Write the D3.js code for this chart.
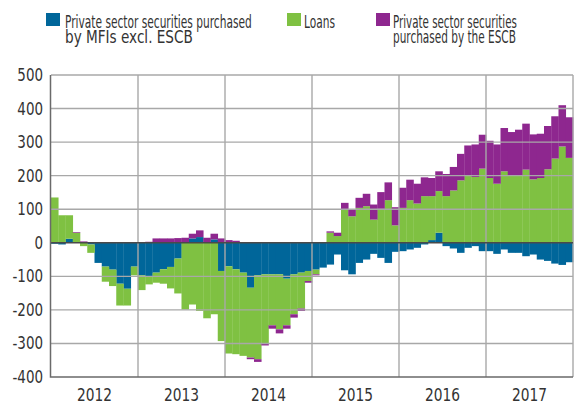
<!DOCTYPE html>
<html>
<head>
<meta charset="utf-8">
<script src="https://cdn.jsdelivr.net/npm/d3@7"></script>
<style>
  body { margin: 0; background: #fff; }
  svg text { font-family: "Liberation Sans Narrow", "DejaVu Sans Condensed", "Roboto", sans-serif; fill: #333; }
</style>
</head>
<body>
<div id="chart"></div>
<script>
// year labels on the x axis, one bar per month
var years = ["2012", "2013", "2014", "2015", "2016", "2017"];
var yTicks = [-400, -300, -200, -100, 0, 100, 200, 300, 400, 500];

// private sector securities purchased by MFIs excl. ESCB
var mfi = [
  -3, -5, 12, 0, 2, -5, -60, -71, -80, -122, -137, -71,
  -97, -99, -89, -79, -72, -47, 0, 13, 17, 0, 10, -84,
  -70, -79, -89, -134, -97, -94, -94, -94, -107, -94, -89, -84,
  -80, -74, -65, -35, -82, -94, -60, -50, -33, -45, -60, -27,
  -25, -20, -15, -5, 8, 30, -10, -17, -30, -15, -10, -25,
  -25, -33, -20, -30, -30, -40, -35, -50, -54, -62, -66, -58
];
// loans
var loans = [
  135, 82, 70, 30, -10, -25, 0, -45, -49, -65, -50, -26,
  -44, -25, -30, -43, -64, -104, -199, -184, -203, -225, -213, -209,
  -260, -253, -248, -208, -250, -206, -152, -164, -139, -119, -107, -30,
  -14, 0, 30, 20, 99, 79, 104, 109, 69, 101, 127, 52,
  104, 127, 117, 139, 131, 124, 139, 156, 186, 200, 196, 221,
  193, 176, 213, 200, 202, 218, 189, 193, 219, 251, 287, 253
];
// private sector securities purchased by the ESCB
var escb = [
  0, 0, 0, 2, 2, 0, 0, 0, 0, 0, 0, 0,
  2, 3, 13, 13, 13, 14, 15, 14, 20, 15, 17, 13,
  8, 6, 0, -5, -8, -6, -10, -12, -10, -10, -7, -5,
  -3, 0, 4, 10, 20, 20, 30, 37, 45, 50, 53, 54,
  60, 61, 59, 56, 54, 59, 66, 70, 79, 90, 97, 101,
  111, 117, 129, 130, 135, 137, 134, 132, 129, 126, 123, 121
];

var seriesNames = [
  ["Private sector securities purchased", "by MFIs excl. ESCB"],
  ["Loans"],
  ["Private sector securities", "purchased by the ESCB"]
];
var colors = ["#00669a", "#7fc142", "#8e278f"];

var months = [];
years.forEach(function(y) {
  for (var m = 1; m <= 12; m++) months.push(y + "-" + (m < 10 ? "0" + m : m));
});

var rows = months.map(function(m, i) {
  return { month: m, mfi: mfi[i], loans: loans[i], escb: escb[i] };
});

var w = 575, h = 405;
var margin = { top: 75, right: 2, bottom: 28, left: 51 };

var svg = d3.select("#chart")
  .append("svg")
  .attr("width", w)
  .attr("height", h);

var xScale = d3.scaleBand()
  .domain(months)
  .range([margin.left, w - margin.right])
  .padding(0);

var yScale = d3.scaleLinear()
  .domain([-400, 500])
  .range([h - margin.bottom, margin.top]);

var stack = d3.stack()
  .keys(["mfi", "loans", "escb"])
  .offset(d3.stackOffsetDiverging);

var layers = stack(rows);

// bars
svg.append("g")
  .selectAll("g")
  .data(layers)
  .enter()
  .append("g")
  .attr("fill", function(d, i) { return colors[i]; })
  .selectAll("rect")
  .data(function(d) { return d; })
  .enter()
  .append("rect")
  .attr("x", function(d) { return xScale(d.data.month); })
  .attr("width", xScale.bandwidth() + 0.3)
  .attr("y", function(d) { return yScale(Math.max(d[0], d[1])); })
  .attr("height", function(d) { return Math.abs(yScale(d[0]) - yScale(d[1])); });

// horizontal grid
svg.append("g")
  .selectAll("line")
  .data(yTicks.filter(function(t) { return t !== 0 && t !== -400; }))
  .enter()
  .append("line")
  .attr("x1", margin.left)
  .attr("x2", w - margin.right)
  .attr("y1", function(d) { return yScale(d); })
  .attr("y2", function(d) { return yScale(d); })
  .style("stroke", "#a8a8a8")
  .style("stroke-width", 1.4);

// year grid lines
var yearEdges = years.map(function(y) { return xScale(y + "-01"); }).slice(1);
yearEdges.push(w - margin.right);
svg.append("g")
  .selectAll("line")
  .data(yearEdges)
  .enter()
  .append("line")
  .attr("x1", function(d) { return d; })
  .attr("x2", function(d) { return d; })
  .attr("y1", margin.top)
  .attr("y2", h - margin.bottom)
  .style("stroke", "#a8a8a8")
  .style("stroke-width", 1.4);

// zero line
svg.append("line")
  .attr("x1", margin.left)
  .attr("x2", w - margin.right)
  .attr("y1", yScale(0))
  .attr("y2", yScale(0))
  .style("stroke", "#4a4a4a")
  .style("stroke-width", 1.5);

// left and bottom axis lines
svg.append("path")
  .attr("d", "M" + (margin.left - 0.5) + "," + margin.top + "V" + (h - margin.bottom) + "H" + (w - margin.right))
  .style("fill", "none")
  .style("stroke", "#6a6a6a")
  .style("stroke-width", 1.5);

// squeeze a text horizontally so it looks like the condensed face of the original
function squeeze(sel, x, y, width) {
  var len = sel.node().getComputedTextLength();
  sel.attr("x", 0).attr("y", 0)
    .attr("transform", "translate(" + x + "," + y + ") scale(" + (width / len) + ",1)");
}

// y axis labels
svg.append("g")
  .selectAll("text")
  .data(yTicks)
  .enter()
  .append("text")
  .style("font-size", "17px")
  .attr("text-anchor", "end")
  .text(function(d) { return d; })
  .each(function(d) {
    var t = d3.select(this);
    var len = this.getComputedTextLength();
    t.attr("transform", "translate(43," + (yScale(d) + 6) + ") scale(0.88,1)");
  });

// year labels
svg.append("g")
  .selectAll("text")
  .data(years)
  .enter()
  .append("text")
  .attr("text-anchor", "middle")
  .style("font-size", "17px")
  .attr("transform", function(y) {
    return "translate(" + (xScale(y + "-01") + xScale.bandwidth() * 6) + ",401) scale(0.9,1)";
  })
  .text(function(d) { return d; });

// legend
var legendPos = [
  { sx: 46, tx: 65, widths: [187, 128] },
  { sx: 287, tx: 304, widths: [31] },
  { sx: 376, tx: 393, widths: [124, 123] }
];

var legend = svg.append("g")
  .selectAll("g")
  .data(seriesNames)
  .enter()
  .append("g");

legend.append("rect")
  .attr("x", function(d, i) { return legendPos[i].sx; })
  .attr("y", 13)
  .attr("width", 14)
  .attr("height", 13)
  .attr("fill", function(d, i) { return colors[i]; });

legend.each(function(lines, i) {
  var g = d3.select(this);
  lines.forEach(function(t, j) {
    var txt = g.append("text")
      .style("font-size", "17px")
      .text(t);
    squeeze(txt, legendPos[i].tx, 28 + j * 15, legendPos[i].widths[j]);
  });
});
</script>
</body>
</html>
